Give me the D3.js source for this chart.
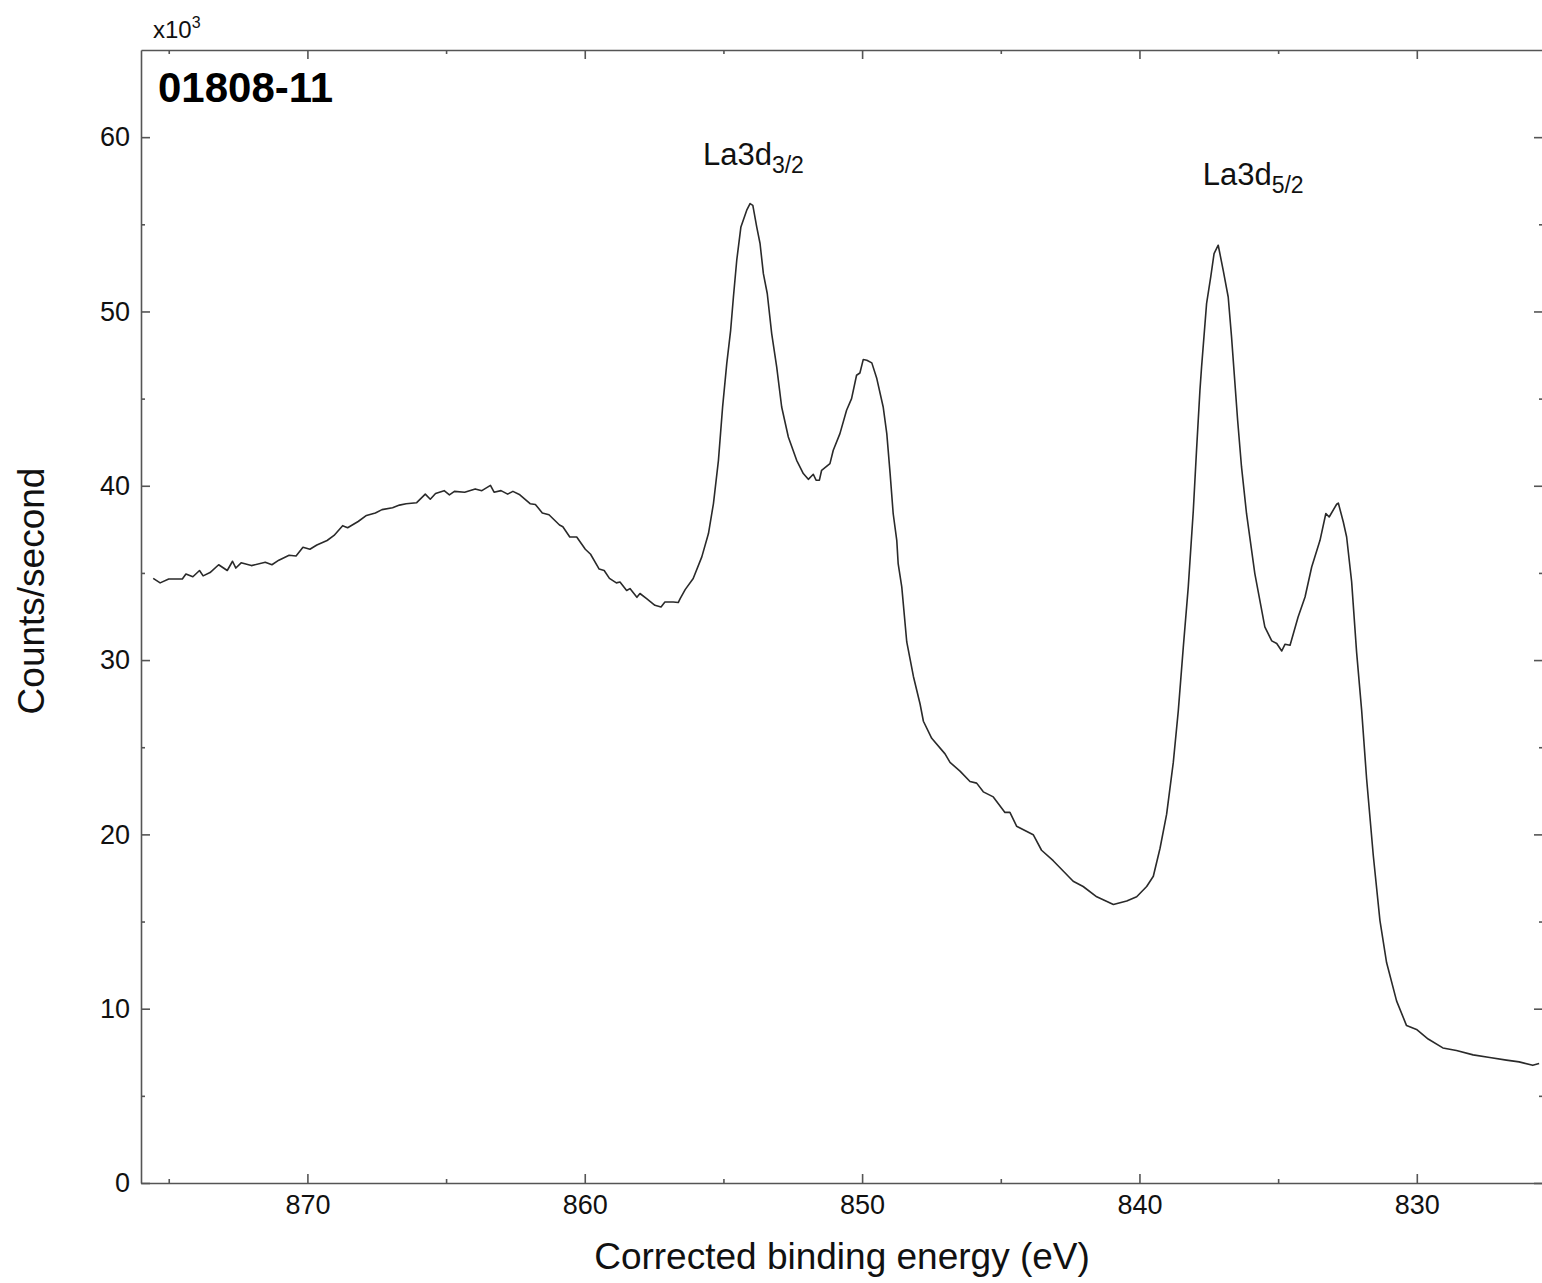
<!DOCTYPE html>
<html>
<head>
<meta charset="utf-8">
<script src="https://cdn.jsdelivr.net/npm/d3@7"></script>
<style>
  html, body { margin: 0; padding: 0; background: #fff; }
  svg { display: block; font-family: "Liberation Sans", Arial, Helvetica, sans-serif; }
</style>
</head>
<body>
<svg id="chart" width="1542" height="1283"></svg>
<script>
// Binding energy (eV)
const energy = [
875.56,875.31,875.00,874.51,874.38,874.13,873.89,873.76,873.51,873.20,872.89,872.70,872.58,872.39,872.02,871.52,871.28,871.03,870.66,870.41,
870.16,869.91,869.66,869.29,869.04,868.73,868.55,868.17,867.87,867.55,867.31,866.93,866.68,866.44,866.06,865.75,865.57,865.38,865.07,864.88,
864.70,864.33,863.95,863.71,863.40,863.27,863.02,862.78,862.59,862.34,861.97,861.78,861.53,861.29,860.91,860.79,860.54,860.29,859.98,859.79,
859.48,859.30,859.11,858.86,858.73,858.49,858.37,858.12,858.01,857.77,857.47,857.25,857.11,856.81,856.63,856.56,856.38,856.09,855.78,855.54,
855.36,855.18,855.03,854.88,854.74,854.64,854.52,854.37,854.16,854.04,853.94,853.80,853.68,853.56,853.42,853.26,853.08,852.90,852.66,852.36,
852.12,851.94,851.76,851.66,851.54,851.46,851.16,851.04,850.80,850.56,850.38,850.20,850.08,849.96,849.83,849.65,849.47,849.24,849.11,848.99,
848.88,848.75,848.70,848.57,848.39,848.15,847.91,847.79,847.49,847.01,846.83,846.47,846.11,845.87,845.63,845.27,844.85,844.67,844.43,843.83,
843.53,843.11,842.75,842.39,842.03,841.54,840.94,840.46,840.10,839.74,839.50,839.26,839.02,838.78,838.60,838.42,838.24,838.06,837.94,837.82,
837.76,837.58,837.43,837.31,837.16,836.98,836.80,836.68,836.46,836.32,836.14,835.84,835.48,835.23,835.05,834.87,834.75,834.57,834.28,834.03,
833.79,833.49,833.28,833.16,832.89,832.83,832.65,832.53,832.35,832.17,831.99,831.81,831.57,831.33,831.09,830.73,830.37,830.01,829.59,829.06,
828.57,827.97,827.37,826.77,826.31,825.82,825.59
];
// Counts/second (x10^3)
const counts = [
34.69,34.43,34.65,34.65,34.94,34.78,35.14,34.83,35.02,35.47,35.14,35.67,35.28,35.58,35.42,35.61,35.47,35.73,36.01,35.97,
36.47,36.36,36.60,36.86,37.15,37.71,37.59,37.95,38.30,38.44,38.63,38.74,38.89,38.97,39.03,39.52,39.23,39.56,39.72,39.48,
39.68,39.63,39.82,39.72,40.02,39.63,39.72,39.52,39.68,39.48,38.97,38.93,38.44,38.34,37.75,37.65,37.06,37.06,36.36,36.07,
35.22,35.14,34.69,34.43,34.48,33.99,34.10,33.60,33.82,33.53,33.14,33.05,33.33,33.33,33.30,33.53,34.04,34.68,35.92,37.26,
38.98,41.46,44.52,47.01,48.92,50.83,52.94,54.85,55.81,56.19,56.09,54.85,53.90,52.17,51.03,48.73,46.82,44.52,42.80,41.46,
40.70,40.37,40.66,40.32,40.32,40.89,41.27,42.04,42.99,44.33,45.00,46.34,46.47,47.24,47.20,47.05,46.15,44.52,42.99,40.70,
38.41,36.87,35.54,34.20,31.04,29.06,27.48,26.49,25.51,24.62,24.13,23.63,23.03,22.94,22.44,22.15,21.26,21.26,20.47,19.98,
19.09,18.49,17.90,17.31,17.01,16.42,15.98,16.18,16.42,17.01,17.60,19.19,21.16,24.13,27.09,30.73,34.20,38.54,42.10,45.46,
46.82,50.45,51.98,53.32,53.80,52.36,50.83,48.54,43.76,41.08,38.41,34.96,31.90,31.10,30.95,30.52,30.91,30.85,32.47,33.62,
35.34,36.87,38.41,38.21,38.94,39.01,37.92,37.06,34.50,30.44,27.14,23.19,18.80,15.07,12.65,10.45,9.03,8.81,8.26,7.75,
7.60,7.35,7.20,7.05,6.95,6.75,6.85
];

const xMajorTicks = [870, 860, 850, 840, 830];
const xMinorTicks = [875, 865, 855, 845, 835, 825];
const yMajorTicks = [0, 10, 20, 30, 40, 50, 60];
const yMinorTicks = [5, 15, 25, 35, 45, 55];

const peakLabels = [
  { name: "La3d", sub: "3/2", e: 855.74, c: 58.40 },
  { name: "La3d", sub: "5/2", e: 837.72, c: 57.26 }
];

const sampleName = "01808-11";
const xTitle = "Corrected binding energy (eV)";
const yTitle = "Counts/second";

// ---- layout ----
const L = 141, R = 1543, T = 50, B = 1183;
const svg = d3.select("#chart");

const x = d3.scaleLinear().domain([876, 825.45]).range([L, R]);
const y = d3.scaleLinear().domain([0, 65]).range([B, T]);

const axisColor = "#555";
const fontTick = 27;

function styleAxis(g) {
  g.selectAll("path.domain").attr("stroke", axisColor).attr("stroke-width", 1.6);
  g.selectAll(".tick line").attr("stroke", axisColor).attr("stroke-width", 1.6);
  g.selectAll(".tick text").attr("fill", "#111").style("font-size", fontTick + "px")
    .style("font-family", '"Liberation Sans", Arial, sans-serif');
}

// bottom
svg.append("g").attr("transform", `translate(0,${B})`)
  .call(d3.axisBottom(x).tickValues(xMinorTicks).tickSize(-4).tickFormat(""))
  .call(g => g.select(".domain").remove()).call(styleAxis);
svg.append("g").attr("transform", `translate(0,${B})`)
  .call(d3.axisBottom(x).tickValues(xMajorTicks).tickSizeInner(-9).tickSizeOuter(0).tickPadding(12).tickFormat(d3.format("d")))
  .call(styleAxis);
// top
svg.append("g").attr("transform", `translate(0,${T})`)
  .call(d3.axisTop(x).tickValues(xMinorTicks).tickSize(-4).tickFormat(""))
  .call(g => g.select(".domain").remove()).call(styleAxis);
svg.append("g").attr("transform", `translate(0,${T})`)
  .call(d3.axisTop(x).tickValues(xMajorTicks).tickSizeInner(-9).tickSizeOuter(0).tickFormat(""))
  .call(styleAxis);
// left
svg.append("g").attr("transform", `translate(${L},0)`)
  .call(d3.axisLeft(y).tickValues(yMinorTicks).tickSize(-4).tickFormat(""))
  .call(g => g.select(".domain").remove()).call(styleAxis);
svg.append("g").attr("transform", `translate(${L},0)`)
  .call(d3.axisLeft(y).tickValues(yMajorTicks).tickSizeInner(-9).tickSizeOuter(0).tickPadding(11).tickFormat(d3.format("d")))
  .call(styleAxis);
// right
svg.append("g").attr("transform", `translate(${R},0)`)
  .call(d3.axisRight(y).tickValues(yMinorTicks).tickSize(-4).tickFormat(""))
  .call(g => g.select(".domain").remove()).call(styleAxis);
svg.append("g").attr("transform", `translate(${R},0)`)
  .call(d3.axisRight(y).tickValues(yMajorTicks).tickSizeInner(-9).tickSizeOuter(0).tickFormat(""))
  .call(styleAxis);

// spectrum line
const data = energy.map((e, i) => ({ e, c: counts[i] }));
const line = d3.line().x(d => x(d.e)).y(d => y(d.c));
svg.append("path").datum(data)
  .attr("d", line)
  .attr("fill", "none")
  .attr("stroke", "#2a2a2a")
  .attr("stroke-width", 1.6)
  .attr("stroke-linejoin", "round");

// multiplier label
const mult = svg.append("text").attr("x", 153).attr("y", 38)
  .attr("fill", "#111").style("font-size", "24px");
mult.append("tspan").text("x10");
mult.append("tspan").text("3").attr("dy", -10).style("font-size", "16px");

// sample name
svg.append("text").attr("x", 158).attr("y", 102)
  .attr("fill", "#000").style("font-size", "42px").style("font-weight", "bold")
  .text(sampleName);

// peak labels
peakLabels.forEach(p => {
  const t = svg.append("text").attr("x", x(p.e)).attr("y", y(p.c))
    .attr("fill", "#111").style("font-size", "31px");
  t.append("tspan").text(p.name);
  t.append("tspan").text(p.sub).attr("dy", 8).style("font-size", "23px");
});

// axis titles
svg.append("text").attr("x", 842).attr("y", 1269)
  .attr("text-anchor", "middle").attr("fill", "#111").style("font-size", "37px")
  .text(xTitle);
svg.append("text")
  .attr("transform", `translate(44,591) rotate(-90)`)
  .attr("text-anchor", "middle").attr("fill", "#111").style("font-size", "37px")
  .text(yTitle);
</script>
</body>
</html>
